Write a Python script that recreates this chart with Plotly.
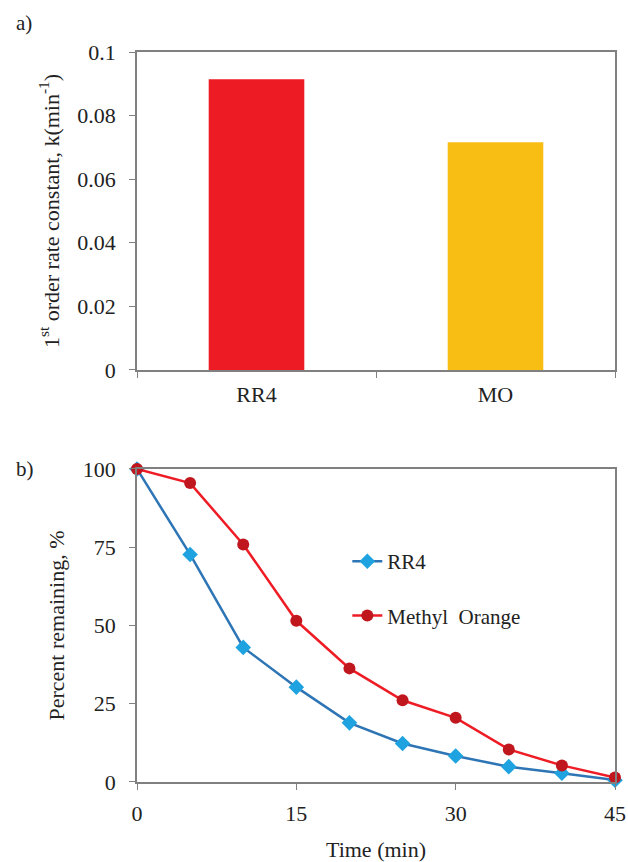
import plotly.graph_objects as go

# ---- data ----
dyes = ["RR4", "MO"]
rate_k = [0.0914, 0.0716]
bar_colors = ["#ED1C24", "#F9BE14"]

time_min = [0, 5, 10, 15, 20, 25, 30, 35, 40, 45]
rr4_pct = [100, 72.7, 43.0, 30.3, 18.9, 12.3, 8.3, 4.9, 2.8, 0.6]
mo_pct = [100, 95.5, 75.9, 51.5, 36.3, 26.1, 20.5, 10.4, 5.3, 1.4]

FONT = "Times New Roman, Liberation Serif, serif"
AX = "#808080"
TXT = "#222222"

fig = go.Figure()

fig.add_trace(go.Bar(x=dyes, y=rate_k, marker=dict(color=bar_colors, line=dict(width=0)),
                     width=0.4, showlegend=False, xaxis="x", yaxis="y"))

fig.add_trace(go.Scatter(x=time_min, y=rr4_pct, name="RR4", mode="lines+markers",
                         line=dict(color="#2E75B6", width=2.5),
                         marker=dict(symbol="diamond", size=12, color="#1FA3E0"),
                         legendgroup="a", xaxis="x2", yaxis="y2", cliponaxis=False))
fig.add_trace(go.Scatter(x=time_min, y=mo_pct, name="Methyl  Orange", mode="lines+markers",
                         line=dict(color="#EE1C25", width=2.5),
                         marker=dict(symbol="circle", size=12, color="#C0161E"),
                         legendgroup="b", xaxis="x2", yaxis="y2", cliponaxis=False))

axis_common = dict(showline=True, linecolor=AX, linewidth=1.5, mirror=True,
                   showgrid=False, zeroline=False, ticks="outside", ticklen=6,
                   automargin=False,
                   tickcolor=AX, tickfont=dict(family=FONT, size=22, color=TXT))

fig.update_layout(
    width=628, height=862,
    margin=dict(l=137, r=13, t=52, b=80, autoexpand=False),
    paper_bgcolor="white", plot_bgcolor="white",
    font=dict(family=FONT, size=22, color=TXT),
    xaxis=dict(domain=[0, 1], anchor="y", type="category", range=[-0.5, 1.5],
               tickson="boundaries", ticklabelstandoff=4, **axis_common),
    yaxis=dict(domain=[0.5644, 1], anchor="x", range=[0, 0.1], dtick=0.02,
               ticklabelstandoff=9,
               title=dict(text="1<sup>st</sup> order rate constant, k(min<sup>-1</sup>)",
                          font=dict(family=FONT, size=22, color=TXT), standoff=12),
               **axis_common),
    xaxis2=dict(domain=[0, 1], anchor="y2", range=[0, 45], dtick=15,
                ticklabelstandoff=5,
                title=dict(text="Time (min)", font=dict(family=FONT, size=22, color=TXT),
                           standoff=16),
                **axis_common),
    yaxis2=dict(domain=[0, 0.4288], anchor="x2", range=[0, 100], dtick=25,
                ticklabelstandoff=9,
                title=dict(text="Percent remaining, %",
                           font=dict(family=FONT, size=22, color=TXT), standoff=12),
                **axis_common),
    legend=dict(x=0.44, y=0.33, xanchor="left", yanchor="top",
                bgcolor="rgba(0,0,0,0)", font=dict(family=FONT, size=21, color=TXT),
                traceorder="grouped", tracegroupgap=24, itemwidth=30),
    annotations=[
        dict(text="a)", x=-0.258, y=1.04, xref="paper", yref="paper", showarrow=False,
             xanchor="left", yanchor="middle", font=dict(family=FONT, size=21, color=TXT)),
        dict(text="b)", x=-0.258, y=0.4288, xref="paper", yref="paper", showarrow=False,
             xanchor="left", yanchor="middle", font=dict(family=FONT, size=21, color=TXT)),
    ],
)

fig.write_html("out.html")
